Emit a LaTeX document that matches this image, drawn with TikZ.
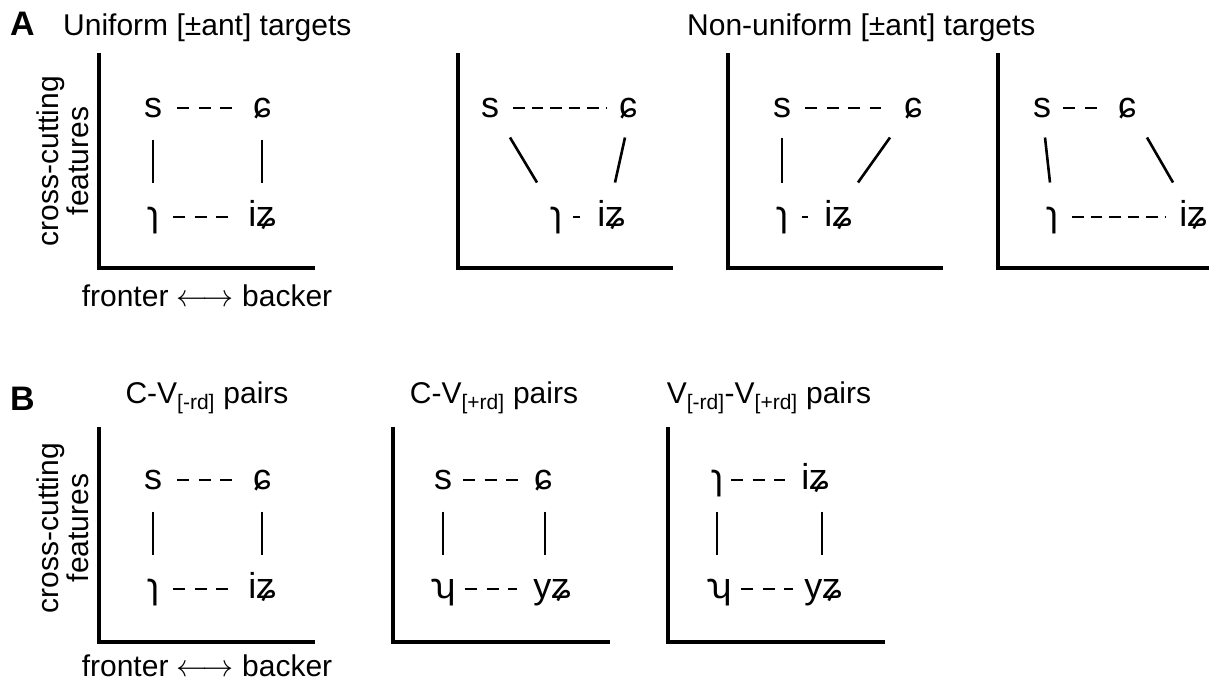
\documentclass[tikz,border=0pt]{standalone}
\usepackage{graphicx}
\usepackage{fontspec}
\setmainfont{Liberation Sans}
\newcommand{\lrarrow}{\resizebox{57pt}{!}{$\longleftrightarrow$}}
\begin{document}
\begin{tikzpicture}[x=1pt,y=-1pt,
  ph/.style={anchor=base, inner sep=0pt, text height=19pt, text depth=0pt, font=\fontsize{36}{36}\selectfont},
  ttl/.style={inner sep=0pt, font=\fontsize{30}{30}\selectfont},
  panel/.style={inner sep=0pt, anchor=base west, font=\fontsize{34}{34}\selectfont\bfseries},
  ylab/.style={inner sep=0pt, anchor=base, rotate=90, font=\fontsize{30}{30}\selectfont},
  ax/.style={line width=3.2pt},
  sol/.style={line width=2.6pt},
  dsh/.style={line width=2pt, dash pattern=on 12pt off 9.5pt},
  dshb/.style={line width=2pt, dash pattern=on 11.5pt off 7pt}
]
\useasboundingbox (0,0) rectangle (1209,686);

% ---------- labels row A ----------
\node[panel] (labA) at (10,35) {A};
\node[ttl, anchor=base west] (tA1) at (63,35) {Uniform [±ant] targets};
\node[ttl, anchor=base west] (tA2) at (687,35) {Non-uniform [±ant] targets};
\node[ylab] (yA1) at (58,161) {cross-cutting};
\node[ylab] (yA2) at (88,161) {features};
\node[ttl, anchor=base] (xA) at (207,306) {fronter \lrarrow{} backer};

% axes row A
\draw[ax] (99,53) -- (99,268) -- (315,268);
\draw[ax] (458,53) -- (458,268) -- (673,268);
\draw[ax] (728,53) -- (728,268) -- (943,268);
\draw[ax] (998,53) -- (998,268) -- (1209,268);

% ---------- panel A1 ----------
\node[ph] (a1s) at (153,117) {s};
\node[ph] (a1c) at (262,117) {ɕ};
\node[ph] (a1r) at (153,226) {ɿ};
\node[ph] (a1i) at (262,226) {iʑ};
\draw[dsh] ([shift={(24,0)}]a1s.center) -- ([shift={(-30,0)}]a1c.center);
\draw[dsh] ([shift={(20,0)}]a1r.center) -- ([shift={(-32,0)}]a1i.center);
\draw[sol] ([shift={(0,32)}]a1s.center) -- ([shift={(0,-34)}]a1r.center);
\draw[sol] ([shift={(0,32)}]a1c.center) -- ([shift={(0,-34)}]a1i.center);

% ---------- panel A2 ----------
\node[ph] (a2s) at (490,117) {s};
\node[ph] (a2c) at (628,117) {ɕ};
\node[ph] (a2r) at (556,226) {ɿ};
\node[ph] (a2i) at (611,226) {iʑ};
\draw[dshb] ([shift={(23,0)}]a2s.center) -- ([shift={(-21,0)}]a2c.center);
\draw[dsh] ([shift={(17,0)}]a2r.center) -- ([shift={(-31,0)}]a2i.center);
\draw[sol] ([shift={(20,30)}]a2s.center) -- ([shift={(-19,-34)}]a2r.center);
\draw[sol] ([shift={(-3,30)}]a2c.center) -- ([shift={(4,-34)}]a2i.center);

% ---------- panel A3 ----------
\node[ph] (a3s) at (782,117) {s};
\node[ph] (a3c) at (913,117) {ɕ};
\node[ph] (a3r) at (782,226) {ɿ};
\node[ph] (a3i) at (838,226) {iʑ};
\draw[dsh] ([shift={(23,0)}]a3s.center) -- ([shift={(-32,0)}]a3c.center);
\draw[dsh] ([shift={(20,0)}]a3r.center) -- ([shift={(-30,0)}]a3i.center);
\draw[sol] ([shift={(0,30)}]a3s.center) -- ([shift={(0,-34)}]a3r.center);
\draw[sol] ([shift={(-23,30)}]a3c.center) -- ([shift={(20,-34)}]a3i.center);

% ---------- panel A4 ----------
\node[ph] (a4s) at (1042,117) {s};
\node[ph] (a4c) at (1127,117) {ɕ};
\node[ph] (a4r) at (1052,226) {ɿ};
\node[ph] (a4i) at (1193,226) {iʑ};
\draw[dsh] ([shift={(21,0)}]a4s.center) -- ([shift={(-30,0)}]a4c.center);
\draw[dshb] ([shift={(20,0)}]a4r.center) -- ([shift={(-27,0)}]a4i.center);
\draw[sol] ([shift={(3,30)}]a4s.center) -- ([shift={(-2,-34)}]a4r.center);
\draw[sol] ([shift={(20,30)}]a4c.center) -- ([shift={(-20,-34)}]a4i.center);

% ---------- labels row B ----------
\node[panel] (labB) at (10,410) {B};
\node[ttl, anchor=base] (tB1) at (207,403) {C-V\textsubscript{[-rd]} pairs};
\node[ttl, anchor=base] (tB2) at (494,403) {C-V\textsubscript{[+rd]} pairs};
\node[ttl, anchor=base] (tB3) at (769,403) {V\textsubscript{[-rd]}-V\textsubscript{[+rd]} pairs};
\node[ylab] (yB1) at (58,528) {cross-cutting};
\node[ylab] (yB2) at (88,528) {features};
\node[ttl, anchor=base] (xB) at (207,676) {fronter \lrarrow{} backer};

% axes row B
\draw[ax] (99,427) -- (99,642) -- (315,642);
\draw[ax] (393,427) -- (393,642) -- (610,642);
\draw[ax] (668,427) -- (668,642) -- (885,642);

% ---------- panel B1 ----------
\node[ph] (b1s) at (153,489) {s};
\node[ph] (b1c) at (262,489) {ɕ};
\node[ph] (b1r) at (153,598) {ɿ};
\node[ph] (b1i) at (262,598) {iʑ};
\draw[dsh] ([shift={(24,0)}]b1s.center) -- ([shift={(-30,0)}]b1c.center);
\draw[dsh] ([shift={(20,0)}]b1r.center) -- ([shift={(-32,0)}]b1i.center);
\draw[sol] ([shift={(0,32)}]b1s.center) -- ([shift={(0,-34)}]b1r.center);
\draw[sol] ([shift={(0,32)}]b1c.center) -- ([shift={(0,-34)}]b1i.center);

% ---------- panel B2 ----------
\node[ph] (b2s) at (443,489) {s};
\node[ph] (b2c) at (543,489) {ɕ};
\node[ph] (b2u) at (443,598) {ʮ};
\node[ph] (b2y) at (552,598) {yʑ};
\draw[dsh] ([shift={(20,0)}]b2s.center) -- ([shift={(-24,0)}]b2c.center);
\draw[dsh] ([shift={(22,0)}]b2u.center) -- ([shift={(-35,0)}]b2y.center);
\draw[sol] ([shift={(0,32)}]b2s.center) -- ([shift={(0,-34)}]b2u.center);
\draw[sol] ([shift={(2,32)}]b2c.center) -- ([shift={(-7,-34)}]b2y.center);

% ---------- panel B3 ----------
\node[ph] (b3r) at (717,489) {ɿ};
\node[ph] (b3i) at (815,489) {iʑ};
\node[ph] (b3u) at (719,598) {ʮ};
\node[ph] (b3y) at (823,598) {yʑ};
\draw[dsh] ([shift={(14,0)}]b3r.center) -- ([shift={(-30,0)}]b3i.center);
\draw[dsh] ([shift={(22,0)}]b3u.center) -- ([shift={(-30,0)}]b3y.center);
\draw[sol] ([shift={(0,32)}]b3r.center) -- ([shift={(-2,-34)}]b3u.center);
\draw[sol] ([shift={(7,32)}]b3i.center) -- ([shift={(-1,-34)}]b3y.center);
\end{tikzpicture}
\end{document}
